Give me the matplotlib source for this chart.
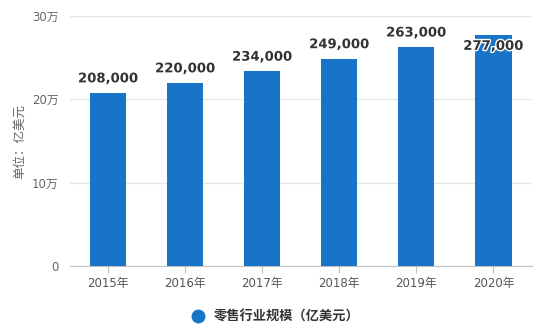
import matplotlib.pyplot as plt
import matplotlib.patheffects as pe

plt.rcParams['font.family'] = ['DejaVu Sans', 'Noto Sans CJK SC']

years = ["2015年", "2016年", "2017年", "2018年", "2019年", "2020年"]
retail = [208000, 220000, 234000, 249000, 263000, 277000]
y_ticks = [0, 100000, 200000, 300000]
y_tick_labels = ["0", "10万", "20万", "30万"]

BAR = "#1874c6"

fig = plt.figure(figsize=(5.45, 3.28), dpi=100)
ax = fig.add_axes([0.128, 0.189, 0.848, 0.762])

xs = list(range(len(years)))
ax.bar(xs, retail, width=0.47, color=BAR, zorder=3)

for x, v in zip(xs, retail):
    # the last label would hit the top gridline, so it sits inside the bar
    dy = -8 if v == retail[-1] else 10
    ax.annotate(f"{v:,}", (x, v), xytext=(0, dy), textcoords="offset points",
                ha="center", va="center", fontsize=9.5, fontweight="bold",
                color="#333333", zorder=4,
                path_effects=[pe.withStroke(linewidth=2, foreground="white")])

ax.set_xlim(-0.5, len(years) - 0.5)
ax.set_ylim(0, 300000)
ax.set_yticks(y_ticks)
ax.set_yticklabels(y_tick_labels)
ax.set_xticks(xs)
ax.set_xticklabels(years)

ax.grid(True, axis="y", color="#e6e6e6", linewidth=1, zorder=0)
for side in ["top", "right", "left"]:
    ax.spines[side].set_visible(False)
ax.spines["bottom"].set_color("#c0c0c0")
ax.tick_params(axis="y", length=0, labelsize=8.5, labelcolor="#666666", pad=8)
ax.tick_params(axis="x", length=5, color="#c0c0c0", labelsize=8.5,
               labelcolor="#555555", pad=3)

ax.set_ylabel("单位：亿美元", fontsize=9, color="#666666", labelpad=8)
ax.yaxis.set_label_coords(-0.095, 0.5)

fig.legend(handles=[plt.Line2D([], [], marker="o", linestyle="", markersize=9,
                               color=BAR)],
           labels=["零售行业规模（亿美元）"], loc="center",
           bbox_to_anchor=(0.5, 0.034), frameon=False, handletextpad=0.2,
           prop={"weight": "bold", "size": 9.5}, labelcolor="#333333")

fig.savefig("out.png", dpi=100)
